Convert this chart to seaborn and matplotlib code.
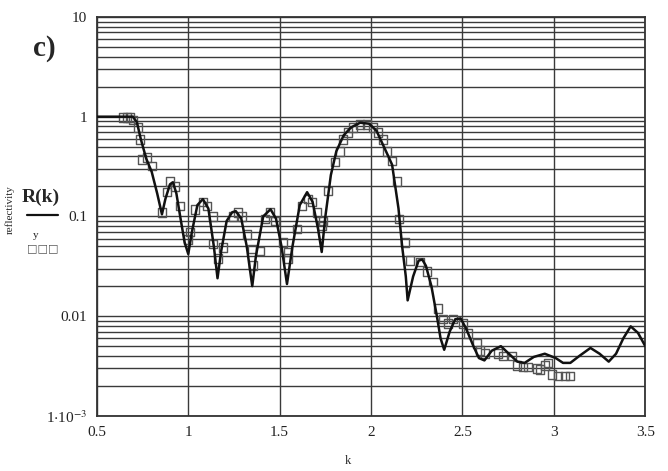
import numpy as np
import pandas as pd
import seaborn as sns
import matplotlib.pyplot as plt
from matplotlib.ticker import FixedLocator, NullFormatter

# Curva teórica R(k)
k_curve = [0.50, 0.697, 0.719, 0.74, 0.77, 0.80, 0.83, 0.856, 0.875, 0.90, 0.916,
           0.935, 0.96, 0.98, 1.00, 1.02, 1.05, 1.08, 1.11, 1.14, 1.16, 1.18,
           1.21, 1.24, 1.26, 1.29, 1.32, 1.35, 1.37, 1.41, 1.45, 1.48, 1.51,
           1.54, 1.57, 1.61, 1.65, 1.68, 1.71, 1.73, 1.75, 1.78, 1.81, 1.85,
           1.89, 1.94, 1.99, 2.03, 2.07, 2.10, 2.115, 2.15, 2.17, 2.19, 2.20,
           2.23, 2.26, 2.28, 2.30, 2.33, 2.36, 2.38, 2.40, 2.43, 2.46, 2.49,
           2.52, 2.56, 2.59, 2.62, 2.66, 2.71, 2.76, 2.80, 2.84, 2.89, 2.95,
           3.01, 3.05, 3.09, 3.14, 3.20, 3.25, 3.30, 3.34, 3.38, 3.42, 3.46, 3.50]
r_curve = [1.0, 1.0, 0.88, 0.60, 0.38, 0.28, 0.17, 0.105, 0.15, 0.21, 0.22,
           0.17, 0.09, 0.055, 0.042, 0.07, 0.13, 0.149, 0.12, 0.05, 0.024, 0.045,
           0.09, 0.11, 0.113, 0.095, 0.05, 0.020, 0.04, 0.10, 0.118, 0.095, 0.05,
           0.021, 0.05, 0.13, 0.175, 0.14, 0.075, 0.044, 0.10, 0.26, 0.45, 0.65,
           0.78, 0.87, 0.85, 0.72, 0.50, 0.38, 0.33, 0.12, 0.05, 0.025, 0.0144,
           0.025, 0.036, 0.037, 0.032, 0.02, 0.01, 0.006, 0.0046, 0.007, 0.0093, 0.0095,
           0.0075, 0.005, 0.0038, 0.0036, 0.0045, 0.0050, 0.0041, 0.0035, 0.0034, 0.0039, 0.0042,
           0.0038, 0.0034, 0.0034, 0.0040, 0.0048, 0.0042, 0.0035, 0.0042, 0.006, 0.0079, 0.0068, 0.0050]

# Datos medidos y
k_data = [0.642, 0.664, 0.681, 0.697, 0.724, 0.735, 0.746, 0.774, 0.801, 0.856,
          0.883, 0.900, 0.927, 0.954, 0.998, 1.009, 1.036, 1.080, 1.102, 1.135,
          1.135, 1.162, 1.190, 1.244, 1.272, 1.294, 1.321, 1.348, 1.354, 1.392,
          1.419, 1.447, 1.474, 1.518, 1.545, 1.545, 1.595, 1.622, 1.655, 1.677,
          1.704, 1.731, 1.737, 1.764, 1.803, 1.830, 1.846, 1.874, 1.901, 1.939,
          1.978, 2.011, 2.038, 2.065, 2.087, 2.115, 2.142, 2.153, 2.186, 2.213,
          2.268, 2.306, 2.339, 2.366, 2.394, 2.421, 2.448, 2.503, 2.531, 2.580,
          2.596, 2.624, 2.695, 2.722, 2.771, 2.799, 2.832, 2.859, 2.908, 2.924,
          2.952, 2.968, 2.990, 3.023, 3.061, 3.089]
r_data = [0.98, 0.98, 0.98, 0.93, 0.78, 0.59, 0.37, 0.39, 0.32, 0.11,
          0.175, 0.225, 0.20, 0.127, 0.059, 0.07, 0.118, 0.139, 0.127, 0.10,
          0.053, 0.038, 0.049, 0.10, 0.11, 0.10, 0.066, 0.047, 0.032, 0.045,
          0.094, 0.11, 0.090, 0.055, 0.044, 0.038, 0.075, 0.127, 0.149, 0.139,
          0.11, 0.08, 0.09, 0.18, 0.35, 0.45, 0.59, 0.69, 0.78, 0.83,
          0.83, 0.78, 0.69, 0.59, 0.45, 0.36, 0.225, 0.094, 0.055, 0.036,
          0.035, 0.028, 0.022, 0.012, 0.0094, 0.0084, 0.0094, 0.0084, 0.0067, 0.0053,
          0.0045, 0.0042, 0.0042, 0.0040, 0.0040, 0.0032, 0.0031, 0.0031, 0.0030, 0.0029,
          0.0032, 0.0034, 0.0026, 0.0025, 0.0025, 0.0025]

x_ticks = [0.5, 1, 1.5, 2, 2.5, 3, 3.5]
x_labels = ["0.5", "1", "1.5", "2", "2.5", "3", "3.5"]
y_ticks = [1e-3, 1e-2, 1e-1, 1, 10]
y_labels = [r"1$\cdot$10$^{-3}$", "0.01", "0.1", "1", "10"]

df_curve = pd.DataFrame({"k": k_curve, "R": r_curve})
df_data = pd.DataFrame({"k": k_data, "y": r_data})

sns.set_theme(style="white")
plt.rcParams["font.family"] = ["Liberation Serif", "DejaVu Serif"]
plt.rcParams["mathtext.fontset"] = "stix"

fig = plt.figure(figsize=(6.68, 4.71), dpi=100)
ax = fig.add_axes([0.145, 0.117, 0.821, 0.847])

sns.scatterplot(data=df_data, x="k", y="y", marker="s", s=38, facecolor="none",
                edgecolor="#555555", linewidth=1.0, ax=ax, zorder=3)
sns.lineplot(data=df_curve, x="k", y="R", color="#111111", linewidth=1.8,
             sort=False, ax=ax, zorder=4)

ax.set_yscale("log")
ax.set_xlim(0.5, 3.5)
ax.set_ylim(1e-3, 10)

ax.xaxis.set_major_locator(FixedLocator(x_ticks))
ax.set_xticklabels(x_labels)
ax.yaxis.set_major_locator(FixedLocator(y_ticks))
ax.set_yticklabels(y_labels)
minor = [m * 10.0 ** e for e in range(-3, 1) for m in range(2, 10)]
ax.yaxis.set_minor_locator(FixedLocator(minor))
ax.yaxis.set_minor_formatter(NullFormatter())

ax.grid(True, which="both", axis="y", color="#3a3a3a", linewidth=1.0)
ax.grid(True, which="major", axis="x", color="#3a3a3a", linewidth=1.0)
ax.tick_params(axis="both", which="both", length=0, labelsize=11, pad=7, colors="#222222")
for s in ax.spines.values():
    s.set_color("#333333")
    s.set_linewidth(1.3)

ax.set_xlabel("")
ax.set_ylabel("")

# Etiquetas laterales estilo Mathcad
fig.text(0.521, 0.022, "k", fontsize=9, ha="center", va="center")
fig.text(0.050, 0.897, "c)", fontsize=21, fontweight="bold", ha="left", va="center")
fig.text(0.015, 0.555, "reflectivity", fontsize=8, rotation=90, ha="center", va="center")
fig.text(0.033, 0.582, "R(k)", fontsize=14, fontweight="bold", ha="left", va="center")
fig.add_artist(plt.Line2D([0.040, 0.087], [0.544, 0.544], color="#111111", linewidth=1.6))
fig.text(0.049, 0.500, "y", fontsize=8, ha="left", va="center")
fig.text(0.041, 0.473, "□□□", fontsize=8, color="#555555", ha="left", va="center",
         family=["DejaVu Sans"])

fig.savefig("out.png", dpi=100)
